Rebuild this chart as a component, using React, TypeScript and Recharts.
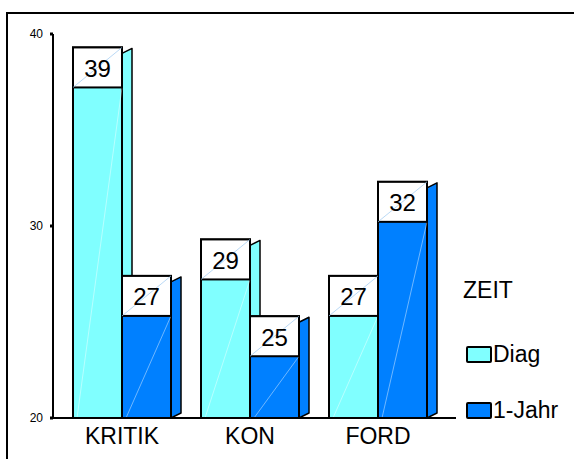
import { BarChart, Bar, XAxis, YAxis, LabelList } from "recharts";

// values (box top = value, label shows the rounded number)
const categories = ["KRITIK", "KON", "FORD"];
const diagValues = [39.3, 29.3, 27.4];
const jahrValues = [27.4, 25.3, 32.3];
const yTicks = [20, 30, 40];

const SERIES = [
  { key: "diag", name: "Diag", color: "#80ffff" },
  { key: "jahr", name: "1-Jahr", color: "#0080ff" },
];

const data = categories.map((name, i) => ({
  name,
  diag: diagValues[i],
  jahr: jahrValues[i],
}));

const FONT = "'Liberation Sans', Arial, sans-serif";
const BOX_H = 40;

// front face + slanted side, like the old SPSS 3D bars
function Bar3D(props: any) {
  const { x, y, width, height, fill } = props;
  const bottom = y + height;
  const dx = 10;
  const dy = 5;
  const r = x + width;
  return (
    <g>
      <polygon
        points={`${r},${y + 6} ${r + dx},${y + 1} ${r + dx},${bottom - dy} ${r},${bottom}`}
        fill={fill}
        stroke="#000"
        strokeWidth={1.5}
        strokeLinejoin="round"
      />
      <rect x={x} y={y} width={width} height={height} fill={fill} stroke="#000" strokeWidth={2} />
      <line
        x1={x + 4}
        y1={bottom}
        x2={r}
        y2={y + BOX_H}
        stroke="#fff"
        strokeOpacity={0.55}
        strokeWidth={0.8}
      />
    </g>
  );
}

function ValueBox(props: any) {
  const { x, y, width, value } = props;
  return (
    <g>
      <rect x={x} y={y} width={width} height={BOX_H} fill="#fff" stroke="#000" strokeWidth={2} />
      <line
        x1={x}
        y1={y + BOX_H}
        x2={x + width}
        y2={y}
        stroke="#9cc8f0"
        strokeWidth={0.7}
      />
      <text
        x={x + width / 2}
        y={y + BOX_H / 2 + 1}
        textAnchor="middle"
        dominantBaseline="central"
        fontSize={24}
        fontFamily={FONT}
        fill="#000"
      >
        {Math.round(value)}
      </text>
    </g>
  );
}

function CategoryTick(props: any) {
  const { x, y, payload } = props;
  return (
    <text
      x={x}
      y={y + 18}
      textAnchor="middle"
      fontSize={23}
      fontFamily={FONT}
      fill="#000"
    >
      {payload.value}
    </text>
  );
}

function LegendBox() {
  return (
    <div style={{ position: "absolute", left: 463, top: 276, fontFamily: FONT, color: "#000" }}>
      <div style={{ fontSize: 23, lineHeight: "28px" }}>ZEIT</div>
      {SERIES.map((s, i) => (
        <div
          key={s.key}
          style={{
            position: "absolute",
            left: 3,
            top: 65 + i * 56,
            display: "flex",
            alignItems: "center",
            whiteSpace: "nowrap",
          }}
        >
          <div
            style={{
              width: 22,
              height: 13,
              background: s.color,
              border: "2px solid #000",
              borderRadius: 2,
              marginRight: 1,
            }}
          />
          <span style={{ fontSize: 23, lineHeight: "26px" }}>{s.name}</span>
        </div>
      ))}
    </div>
  );
}

export default function App() {
  return (
    <div
      style={{
        position: "absolute",
        left: 0,
        top: 0,
        width: 574,
        height: 459,
        background: "#fff",
        overflow: "hidden",
      }}
    >
      <div
        style={{
          position: "absolute",
          left: 6,
          top: 12,
          width: 600,
          height: 500,
          borderLeft: "2px solid #000",
          borderTop: "2px solid #000",
        }}
      />
      <div style={{ position: "absolute", left: 0, top: 0 }}>
        <BarChart
          width={574}
          height={459}
          data={data}
          margin={{ top: 34, right: 118, bottom: 0, left: 23 }}
          barCategoryGap={15}
          barGap={0}
        >
          <XAxis
            dataKey="name"
            height={41}
            padding={{ left: 5, right: 14 }}
            axisLine={{ stroke: "#000", strokeWidth: 2 }}
            tickLine={false}
            tick={<CategoryTick />}
            interval={0}
          />
          <YAxis
            width={30}
            domain={[20, 40]}
            ticks={yTicks}
            allowDataOverflow
            axisLine={{ stroke: "#000", strokeWidth: 2 }}
            tickLine={{ stroke: "#000", strokeWidth: 3 }}
            tickSize={3}
            tickMargin={7}
            tick={{ fill: "#000", fontSize: 12, fontFamily: FONT }}
          />
          {SERIES.map((s) => (
            <Bar
              key={s.key}
              dataKey={s.key}
              name={s.name}
              fill={s.color}
              shape={<Bar3D />}
              isAnimationActive={false}
            >
              <LabelList dataKey={s.key} content={<ValueBox />} />
            </Bar>
          ))}
        </BarChart>
      </div>
      <LegendBox />
    </div>
  );
}
